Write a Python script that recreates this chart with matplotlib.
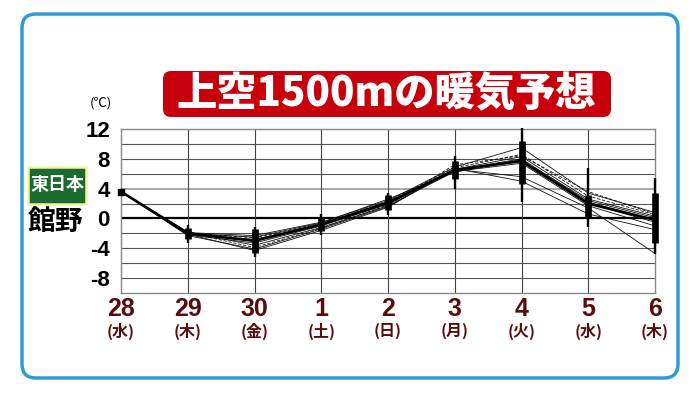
import matplotlib.pyplot as plt
from matplotlib.patches import FancyBboxPatch

plt.rcParams["font.family"] = ["Noto Sans CJK JP", "DejaVu Sans"]

# forecast days and weekday labels
days = ["28", "29", "30", "1", "2", "3", "4", "5", "6"]
weekdays = ["(水)", "(木)", "(金)", "(土)", "(日)", "(月)", "(火)", "(水)", "(木)"]
yticks = [12, 8, 4, 0, -4, -8]

# ensemble members (temperature at 850hPa, deg C)
members = [
    [3.6, -1.9, -2.3, -0.5, 2.4, 6.9, 9.5, 3.4, 0.8],
    [3.6, -2.0, -2.6, -0.7, 2.3, 6.8, 8.6, 3.0, 0.5],
    [3.6, -2.1, -2.8, -0.8, 2.2, 6.6, 8.3, 2.6, 0.3],
    [3.6, -2.0, -3.0, -0.9, 2.0, 6.5, 8.0, 2.2, -0.2],
    [3.6, -2.2, -3.3, -1.0, 1.9, 6.4, 7.7, 2.0, -0.5],
    [3.6, -1.8, -3.6, -1.2, 1.7, 6.3, 7.4, 1.7, -1.0],
    [3.6, -2.3, -4.1, -1.4, 1.6, 6.6, 5.6, 1.4, -4.7],
    [3.6, -2.1, -4.3, -1.6, 1.5, 6.7, 5.0, 0.6, -1.5],
    [3.6, -1.9, -3.9, -1.3, 1.8, 7.2, 8.4, 3.6, 0.6],
    [3.6, -2.0, -2.5, -0.6, 2.6, 6.2, 7.9, 2.4, 0.1],
]
dashed = [1, 8]
mean_line = [3.6, -2.0, -3.0, -0.8, 2.1, 6.5, 7.7, 2.0, -0.2]

# candlesticks for days 29 .. 6
whisker_hi = [-0.9, -1.1, 0.6, 3.4, 8.4, 12.1, 6.8, 5.4]
whisker_lo = [-3.3, -5.2, -2.2, 0.5, 3.9, 2.2, -1.2, -4.8]
box_hi = [-1.3, -1.4, 0.2, 3.1, 7.7, 10.4, 3.2, 3.4]
box_lo = [-2.8, -4.7, -1.7, 1.2, 5.3, 4.6, 0.2, -3.3]

fig = plt.figure(figsize=(7, 3.93), dpi=100)

# background layer in pixel units
bg = fig.add_axes([0, 0, 1, 1])
bg.set_xlim(0, 700)
bg.set_ylim(393, 0)
bg.axis("off")
bg.add_patch(FancyBboxPatch((22, 14), 656, 364, boxstyle="round,pad=0,rounding_size=14",
                            fc="white", ec="#2e9bd6", lw=2.5))
bg.add_patch(FancyBboxPatch((163, 71), 448, 46, boxstyle="round,pad=0,rounding_size=8",
                            fc="#c8000b", ec="none"))
bg.text(386, 94, "上空1500mの暖気予想", color="white", fontsize=29, fontweight="heavy",
        ha="center", va="center")
bg.add_patch(FancyBboxPatch((28, 167), 58, 37, boxstyle="square,pad=0",
                            fc="#1b6b2f", ec="#f3f3a8", lw=1.8))
bg.text(57, 185, "東日本", color="white", fontsize=13, fontweight="bold",
        ha="center", va="center")
bg.text(56, 222, "館野", color="black", fontsize=20, fontweight="bold",
        ha="center", va="center")
bg.text(101, 103, "(℃)", color="black", fontsize=9.5, ha="center", va="center")

ax = fig.add_axes([121 / 700, 1 - 293 / 393, 534 / 700, 164 / 393])
ax.set_zorder(1)
ax.set_xlim(0, len(days) - 1)
ax.set_ylim(-10, 12)

for v in range(-8, 12, 2):
    if v == 0:
        continue
    ax.axhline(v, color="#999999" if v == 4 else "#555555", lw=1.2 if v == 4 else 0.8, zorder=1)
ax.axhline(0, color="black", lw=1.6, zorder=1)
for i in range(1, len(days) - 1):
    ax.axvline(i, color="#444444", lw=0.8, zorder=1)

x = list(range(len(days)))
for k, m in enumerate(members):
    ax.plot(x, m, color="#111111", lw=0.6, ls=(0, (4, 2)) if k in dashed else "-", zorder=2)
ax.plot(x, mean_line, color="black", lw=1.9, zorder=3)
ax.plot([0], [mean_line[0]], marker="s", color="black", ms=5, zorder=4, clip_on=False)

cx = x[1:]
ax.vlines(cx, whisker_lo, whisker_hi, color="black", lw=1.7, zorder=4, clip_on=False)
ax.vlines(cx, box_lo, box_hi, color="black", lw=4.8, zorder=4, clip_on=False)

for s in ax.spines.values():
    s.set_color("#888888")
    s.set_linewidth(1)

ax.set_yticks(yticks)
ax.set_yticklabels([str(t) for t in yticks], fontsize=16, fontweight="bold",
                   family=["Liberation Sans Narrow", "Liberation Sans"])
ax.tick_params(axis="y", length=0, pad=8)
ax.set_xticks([])

tr = ax.get_xaxis_transform()
for i, (d, w) in enumerate(zip(days, weekdays)):
    ax.text(i, -0.0976, d, transform=tr, ha="center", va="center", fontsize=18,
            fontweight="bold", color="#5a0c0c", family=["Liberation Sans", "DejaVu Sans"],
            clip_on=False)
    ax.text(i, -0.232, w, transform=tr, ha="center", va="center", fontsize=11.5,
            fontweight="bold", color="#5a0c0c", clip_on=False)

fig.savefig("out.png", dpi=100)
